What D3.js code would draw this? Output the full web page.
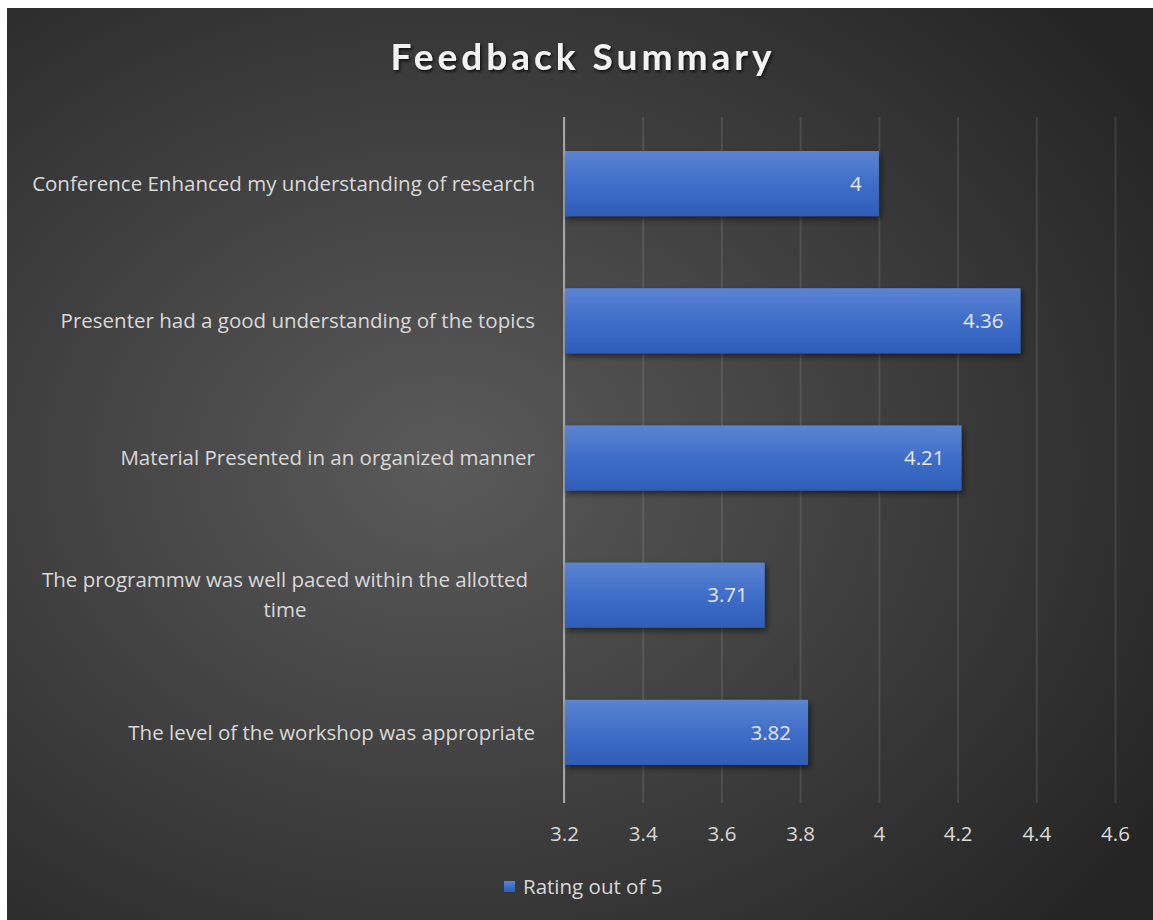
<!DOCTYPE html>
<html>
<head>
<meta charset="utf-8">
<script src="https://cdn.jsdelivr.net/npm/d3@7"></script>
<style>
  html, body { margin: 0; padding: 0; background: #ffffff; }
  svg { display: block; }
</style>
</head>
<body>
<div id="chart"></div>
<script>
// chart data
var categories = [
  "Conference Enhanced my understanding of research",
  "Presenter had a good understanding of the topics",
  "Material Presented in an organized manner",
  "The programmw was well paced within the allotted time",
  "The level of the workshop was appropriate"
];
var ratings = [4, 4.36, 4.21, 3.71, 3.82];
var tickValues = [3.2, 3.4, 3.6, 3.8, 4, 4.2, 4.4, 4.6];
var seriesName = "Rating out of 5";
var chartTitle = "Feedback Summary";

var W = 1153, H = 920;
var font = "'Open Sans', Lato, sans-serif";
var titleFont = "Lato, 'Open Sans', sans-serif";
var fs = "20.5px";

var svg = d3.select("#chart").append("svg")
  .attr("width", W)
  .attr("height", H);

var defs = svg.append("defs");

// dark radial background like the office "dark" style
var bgGrad = defs.append("radialGradient")
  .attr("id", "bg")
  .attr("cx", "38%").attr("cy", "50%").attr("r", "75%");
bgGrad.append("stop").attr("offset", "0%").attr("stop-color", "#5a5a5a");
bgGrad.append("stop").attr("offset", "100%").attr("stop-color", "#242424");

// bar fill, lighter at the top
var barGrad = defs.append("linearGradient")
  .attr("id", "barfill")
  .attr("x1", 0).attr("y1", 0).attr("x2", 0).attr("y2", 1);
barGrad.append("stop").attr("offset", "0%").attr("stop-color", "#5b84d1");
barGrad.append("stop").attr("offset", "50%").attr("stop-color", "#3f6ec9");
barGrad.append("stop").attr("offset", "100%").attr("stop-color", "#2e5db6");

var barShadow = defs.append("filter").attr("id", "barshadow")
  .attr("x", "-5%").attr("y", "-20%").attr("width", "115%").attr("height", "150%");
barShadow.append("feDropShadow")
  .attr("dx", 2).attr("dy", 3).attr("stdDeviation", 3)
  .attr("flood-color", "#000").attr("flood-opacity", 0.55);

var titleShadow = defs.append("filter").attr("id", "titleshadow")
  .attr("x", "-5%").attr("y", "-20%").attr("width", "115%").attr("height", "150%");
titleShadow.append("feDropShadow")
  .attr("dx", 1.5).attr("dy", 2).attr("stdDeviation", 1.5)
  .attr("flood-color", "#000").attr("flood-opacity", 0.7);

svg.append("rect")
  .attr("x", 7).attr("y", 8)
  .attr("width", W - 7).attr("height", H - 8)
  .attr("fill", "url(#bg)");

// title
svg.append("text")
  .text(chartTitle)
  .attr("x", 583).attr("y", 70)
  .attr("text-anchor", "middle")
  .attr("fill", "#f2f2f2")
  .attr("filter", "url(#titleshadow)")
  .style("font-family", titleFont)
  .style("font-size", "37px")
  .style("font-weight", "bold")
  .style("letter-spacing", "4px");

// scales
var plotTop = 117, plotBottom = 803;
var x = d3.scaleLinear()
  .domain([tickValues[0], tickValues[tickValues.length - 1]])
  .range([564, 1115]);

var y = d3.scaleBand()
  .domain(categories)
  .range([plotTop - 2, plotBottom - 2])
  .paddingInner(0.525)
  .paddingOuter(0.2625);

// x axis with gridlines
var xAxis = svg.append("g")
  .attr("transform", "translate(0," + plotBottom + ")")
  .call(d3.axisBottom(x)
    .tickValues(tickValues)
    .tickFormat(d3.format("~g"))
    .tickSize(-(plotBottom - plotTop))
    .tickSizeOuter(0)
    .tickPadding(23));

xAxis.select(".domain").remove();
xAxis.selectAll(".tick line")
  .attr("stroke", "#ffffff")
  .attr("stroke-opacity", 0.1)
  .attr("stroke-width", 2);
xAxis.selectAll(".tick text")
  .attr("fill", "#d9d9d9")
  .style("font-family", font)
  .style("font-size", fs);

// value axis line at the left of the plot
svg.append("line")
  .attr("x1", x(tickValues[0])).attr("x2", x(tickValues[0]))
  .attr("y1", plotTop).attr("y2", plotBottom)
  .attr("stroke", "#a6a6a6")
  .attr("stroke-width", 2);

// bars
svg.append("g").selectAll("rect")
  .data(categories)
  .enter().append("rect")
  .attr("x", x(tickValues[0]) + 1)
  .attr("y", function(d) { return y(d); })
  .attr("width", function(d, i) { return x(ratings[i]) - x(tickValues[0]) - 1; })
  .attr("height", y.bandwidth())
  .attr("fill", "url(#barfill)")
  .attr("filter", "url(#barshadow)");

// data labels inside the bar ends
svg.append("g").selectAll("text")
  .data(categories)
  .enter().append("text")
  .text(function(d, i) { return ratings[i]; })
  .attr("x", function(d, i) { return x(ratings[i]) - 17; })
  .attr("y", function(d) { return y(d) + y.bandwidth() / 2; })
  .attr("dy", "0.35em")
  .attr("text-anchor", "end")
  .attr("fill", "#e6e6e6")
  .style("font-family", font)
  .style("font-size", fs);

// category labels, wrapped ones are centred like in Excel
var labelRight = 535, labelWidth = 512, labelCentre = 285;
var catLabels = svg.append("g");
categories.forEach(function(c) {
  var t = catLabels.append("text")
    .attr("fill", "#d9d9d9")
    .style("font-family", font)
    .style("font-size", fs);
  var cy = y(c) + y.bandwidth() / 2;
  // simple word wrap
  var words = c.split(" "), lines = [], line = [];
  var probe = t.append("tspan");
  words.forEach(function(w) {
    line.push(w);
    probe.text(line.join(" "));
    if (probe.node().getComputedTextLength() > labelWidth && line.length > 1) {
      line.pop();
      lines.push(line.join(" "));
      line = [w];
    }
  });
  lines.push(line.join(" "));
  probe.remove();
  var lh = 30;
  var startY = cy - (lines.length - 1) * lh / 2;
  if (lines.length === 1) {
    t.attr("text-anchor", "end")
      .append("tspan")
      .attr("x", labelRight).attr("y", startY).attr("dy", "0.35em")
      .text(lines[0]);
  } else {
    t.attr("text-anchor", "middle");
    lines.forEach(function(l, k) {
      t.append("tspan")
        .attr("x", labelCentre)
        .attr("y", startY + k * lh).attr("dy", "0.35em")
        .text(l);
    });
  }
});

// legend
var legend = svg.append("g");
legend.append("rect")
  .attr("x", 504).attr("y", 881)
  .attr("width", 11).attr("height", 11)
  .attr("fill", "url(#barfill)");
legend.append("text")
  .text(seriesName)
  .attr("x", 523).attr("y", 887)
  .attr("dy", "0.35em")
  .attr("fill", "#d9d9d9")
  .style("font-family", font)
  .style("font-size", fs);
</script>
</body>
</html>
